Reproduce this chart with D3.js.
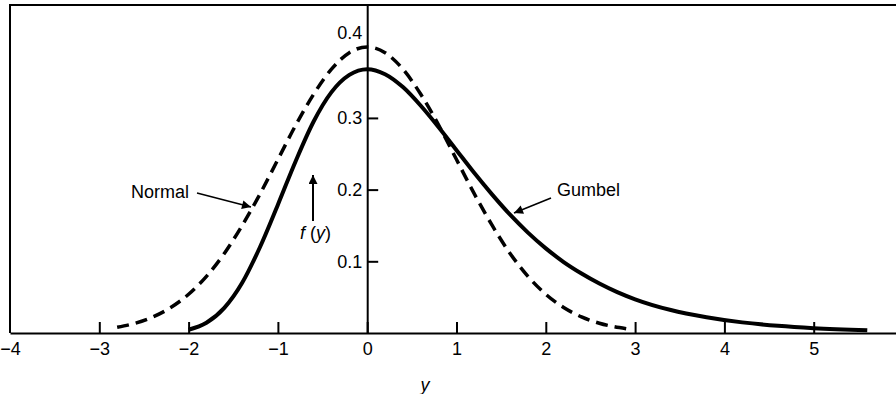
<!DOCTYPE html>
<meta charset="utf-8">
<style>
body {
  margin: 0;
  background: #fff;
  font-family: "Liberation Sans", Arial, Helvetica, sans-serif;
}
.axis text {
  font-size: 18px;
  fill: #000;
}
.axis path, .axis line {
  stroke: #000;
  stroke-width: 2;
}
.curve {
  fill: none;
  stroke: #000;
  stroke-linejoin: round;
}
</style>
<body>
<script src="https://d3js.org/d3.v7.min.js"></script>
<script>

var width = 896,
    height = 394;

// readings taken off the figure
var normalY = [-2.8, -2.6, -2.4, -2.2, -2.0, -1.8, -1.6, -1.4, -1.2, -1.0, -0.8, -0.6, -0.4, -0.2, 0,
               0.2, 0.4, 0.6, 0.8, 1.0, 1.2, 1.4, 1.6, 1.8, 2.0, 2.2, 2.4, 2.6, 2.9];
var normalF = [0.008, 0.0136, 0.0224, 0.0355, 0.054, 0.079, 0.111, 0.150, 0.194, 0.242, 0.290, 0.333, 0.368, 0.391, 0.399,
               0.391, 0.368, 0.333, 0.290, 0.242, 0.194, 0.150, 0.111, 0.079, 0.054, 0.0355, 0.0224, 0.0136, 0.006];

var gumbelY = [-2.0, -1.8, -1.6, -1.4, -1.2, -1.0, -0.8, -0.6, -0.4, -0.2, 0,
               0.2, 0.4, 0.6, 0.8, 1.0, 1.2, 1.4, 1.6, 1.8, 2.0, 2.2, 2.4, 2.6, 2.8, 3.0,
               3.4, 3.8, 4.2, 4.6, 5.0, 5.6];
var gumbelF = [0.0046, 0.0143, 0.035, 0.070, 0.120, 0.179, 0.240, 0.295, 0.336, 0.360, 0.368,
               0.361, 0.343, 0.317, 0.287, 0.255, 0.223, 0.193, 0.165, 0.140, 0.118, 0.099, 0.083, 0.069, 0.057, 0.047,
               0.032, 0.022, 0.0148, 0.010, 0.0067, 0.0037];

var xTicks = [-4, -3, -2, -1, 0, 1, 2, 3, 4, 5];
var yTicks = [0.1, 0.2, 0.3, 0.4];

var x = d3.scaleLinear()
    .domain([-4, 6])
    .range([10, 903]);

var y = d3.scaleLinear()
    .domain([0, 0.4575])
    .range([333, 5]);

var svg = d3.select("body").append("svg")
    .attr("width", width)
    .attr("height", height);

var defs = svg.append("defs");
defs.append("marker")
    .attr("id", "head")
    .attr("viewBox", "0 0 10 10")
    .attr("refX", 10)
    .attr("refY", 5)
    .attr("markerWidth", 14)
    .attr("markerHeight", 9)
    .attr("markerUnits", "userSpaceOnUse")
    .attr("orient", "auto")
  .append("path")
    .attr("d", "M0,0L10,5L0,10z")
    .attr("fill", "#000");

// frame: top and left edges
svg.append("path")
    .attr("d", "M" + x(-4) + "," + y(0) + "V" + y(0.4575) + "H" + width)
    .attr("fill", "none")
    .attr("stroke", "#000")
    .attr("stroke-width", 2);

svg.append("g")
    .attr("class", "axis")
    .attr("transform", "translate(0," + y(0) + ")")
    .call(d3.axisBottom(x)
      .tickValues(xTicks)
      .tickSizeInner(-11)
      .tickSizeOuter(0)
      .tickPadding(9))
    .call(function(g) { g.selectAll(".tick line").filter(function(d) { return d === -4; }).remove(); });

var yAxis = svg.append("g")
    .attr("class", "axis")
    .attr("transform", "translate(" + x(0) + ",0)")
    .call(d3.axisLeft(y)
      .tickValues(yTicks)
      .tickSizeInner(-11)
      .tickSizeOuter(0)
      .tickPadding(5)
      .tickFormat(d3.format(".1f")));

yAxis.selectAll(".tick").filter(function(d) { return d === 0.4; })
    .call(function(t) {
      t.select("line").remove();
      t.select("text").attr("y", -13);
    });

var line = d3.line()
    .x(function(d) { return x(d[0]); })
    .y(function(d) { return y(d[1]); })
    .curve(d3.curveMonotoneX);

svg.append("path")
    .attr("class", "curve")
    .attr("stroke-width", 3.5)
    .attr("stroke-dasharray", "12,7")
    .attr("d", line(d3.zip(normalY, normalF)));

svg.append("path")
    .attr("class", "curve")
    .attr("stroke-width", 4)
    .attr("d", line(d3.zip(gumbelY, gumbelF)));

// labels with pointers
var notes = [
  {text: "Normal", tx: 131, ty: 192, from: [197, 193], to: [251, 207]},
  {text: "Gumbel", tx: 557, ty: 190, from: [551, 198], to: [514, 213]}
];

notes.forEach(function(n) {
  svg.append("text")
      .attr("x", n.tx)
      .attr("y", n.ty)
      .attr("dy", "0.35em")
      .attr("font-size", 18)
      .text(n.text);
  svg.append("line")
      .attr("x1", n.from[0]).attr("y1", n.from[1])
      .attr("x2", n.to[0]).attr("y2", n.to[1])
      .attr("stroke", "#000")
      .attr("stroke-width", 1.6)
      .attr("marker-end", "url(#head)");
});

// f(y) with upward arrow
svg.append("line")
    .attr("x1", 313).attr("y1", 221)
    .attr("x2", 313).attr("y2", 175)
    .attr("stroke", "#000")
    .attr("stroke-width", 2)
    .attr("marker-end", "url(#head)");

var fy = svg.append("text")
    .attr("x", 300)
    .attr("y", 239)
    .attr("font-size", 18);
fy.append("tspan").attr("font-style", "italic").text("f");
fy.append("tspan").text(" (");
fy.append("tspan").attr("font-style", "italic").text("y");
fy.append("tspan").text(")");

svg.append("text")
    .attr("x", 425)
    .attr("y", 385)
    .attr("dy", "0.35em")
    .attr("text-anchor", "middle")
    .attr("font-size", 18)
    .attr("font-style", "italic")
    .text("y");

</script>
